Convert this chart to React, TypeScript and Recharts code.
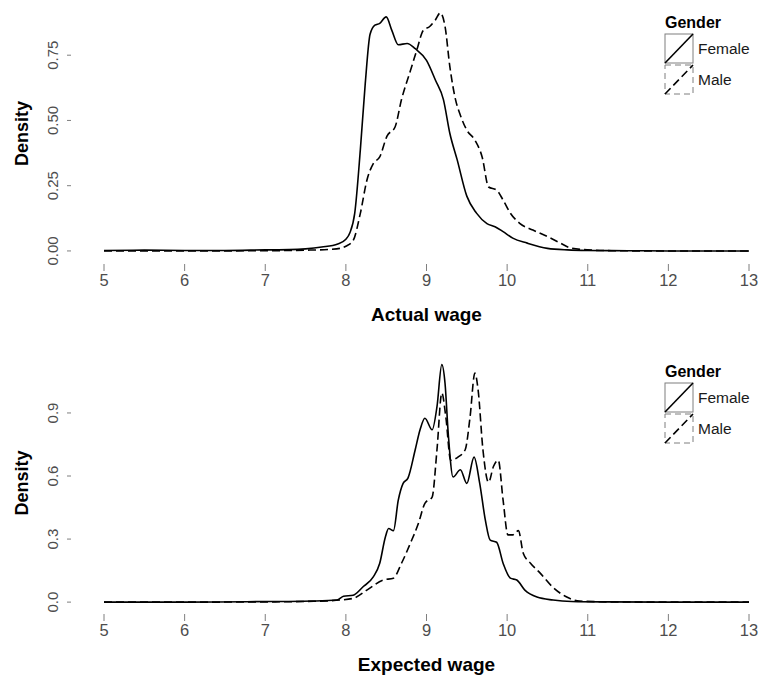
import React from "react";
import { LineChart, Line, XAxis, YAxis, Legend } from "recharts";

// actual wage densities
const actualFemaleX = [5, 5.5, 6, 6.5, 7, 7.3, 7.5, 7.7, 7.9, 8.0, 8.05, 8.11, 8.18, 8.24, 8.3, 8.36, 8.42, 8.5, 8.57, 8.65, 8.76, 8.86, 9.0, 9.11, 9.21, 9.29, 9.38, 9.5, 9.62, 9.75, 9.85, 9.95, 10.07, 10.25, 10.5, 10.75, 11, 11.5, 12, 12.5, 13];
const actualFemaleY = [0.002, 0.003, 0.002, 0.002, 0.004, 0.005, 0.008, 0.015, 0.027, 0.045, 0.07, 0.145, 0.39, 0.64, 0.83, 0.865, 0.872, 0.897, 0.845, 0.79, 0.795, 0.775, 0.73, 0.655, 0.58, 0.45, 0.35, 0.21, 0.145, 0.105, 0.093, 0.074, 0.049, 0.03, 0.01, 0.004, 0.002, 0.001, 0, 0, 0];
const actualMaleX = [5, 6, 7, 7.5, 7.8, 7.93, 8.0, 8.09, 8.18, 8.26, 8.34, 8.42, 8.51, 8.61, 8.69, 8.8, 8.88, 8.96, 9.04, 9.11, 9.17, 9.23, 9.29, 9.36, 9.42, 9.5, 9.6, 9.69, 9.77, 9.87, 9.95, 10.04, 10.16, 10.32, 10.5, 10.66, 10.78, 11.0, 11.3, 12, 13];
const actualMaleY = [0, 0, 0.001, 0.003, 0.006, 0.01, 0.018, 0.04, 0.145, 0.27, 0.335, 0.36, 0.44, 0.475, 0.58, 0.69, 0.77, 0.845, 0.86, 0.885, 0.912, 0.86, 0.705, 0.58, 0.52, 0.463, 0.425, 0.36, 0.245, 0.233, 0.195, 0.145, 0.105, 0.08, 0.055, 0.03, 0.012, 0.004, 0.001, 0, 0];

// expected wage densities
const expectedFemaleX = [5, 6, 6.77, 7.2, 7.6, 7.89, 7.97, 8.09, 8.21, 8.34, 8.42, 8.49, 8.53, 8.59, 8.65, 8.71, 8.77, 8.86, 8.92, 8.98, 9.07, 9.13, 9.19, 9.23, 9.27, 9.33, 9.42, 9.5, 9.59, 9.66, 9.73, 9.79, 9.87, 9.95, 10.04, 10.12, 10.22, 10.37, 10.57, 10.8, 11.2, 12, 13];
const expectedFemaleY = [0, 0, 0.002, 0.003, 0.005, 0.01, 0.028, 0.033, 0.072, 0.12, 0.185, 0.31, 0.35, 0.34, 0.485, 0.565, 0.59, 0.725, 0.82, 0.875, 0.82, 0.93, 1.13, 1.04, 0.8, 0.595, 0.63, 0.565, 0.69, 0.565, 0.39, 0.295, 0.285, 0.185, 0.114, 0.105, 0.057, 0.024, 0.01, 0.003, 0.001, 0, 0];
const expectedMaleX = [5, 6, 7, 7.6, 7.93, 8.09, 8.26, 8.46, 8.59, 8.69, 8.8, 8.9, 8.98, 9.07, 9.13, 9.19, 9.24, 9.3, 9.39, 9.48, 9.54, 9.6, 9.64, 9.7, 9.77, 9.83, 9.89, 9.95, 10.01, 10.07, 10.14, 10.2, 10.29, 10.41, 10.57, 10.74, 10.9, 11.3, 12, 13];
const expectedMaleY = [0, 0, 0.001, 0.004, 0.01, 0.018, 0.057, 0.105, 0.114, 0.185, 0.28, 0.375, 0.47, 0.5, 0.725, 0.995, 0.88, 0.675, 0.69, 0.725, 0.88, 1.09, 1.01, 0.725, 0.57, 0.645, 0.675, 0.485, 0.32, 0.32, 0.34, 0.233, 0.185, 0.138, 0.07, 0.024, 0.005, 0.001, 0, 0];

const xTicks = [5, 6, 7, 8, 9, 10, 11, 12, 13];
const actualYTicks = [0, 0.25, 0.5, 0.75];
const expectedYTicks = [0, 0.3, 0.6, 0.9];
const genders = ["Female", "Male"];

const FONT = "'Liberation Sans', Arial, sans-serif";
const zip = (xs: number[], ys: number[]) => xs.map((x, i) => ({ wage: x, density: ys[i] }));

function YTick(props: any) {
  const { x, y, payload, digits } = props;
  const tx = x - 51;
  return (
    <g>
      <line x1={x - 37} x2={x - 33} y1={y} y2={y} stroke="#7f7f7f" />
      <text
        x={tx}
        y={y}
        transform={`rotate(-90 ${tx} ${y})`}
        textAnchor="middle"
        dominantBaseline="central"
        fill="#4d4d4d"
        fontSize={15}
        fontFamily={FONT}
      >
        {payload.value.toFixed(digits)}
      </text>
    </g>
  );
}

function GenderLegend() {
  return (
    <div style={{ fontFamily: FONT, color: "#1a1a1a" }}>
      <div style={{ fontWeight: "bold", fontSize: 16, marginLeft: 1, lineHeight: "20px", color: "#000" }}>Gender</div>
      {genders.map((g, i) => (
        <div key={g} style={{ display: "flex", alignItems: "center", height: 31 }}>
          <svg width={30} height={31}>
            <rect x={1} y={1} width={28} height={29} fill="none" stroke="#7f7f7f" strokeDasharray={i ? "6 4" : undefined} />
            <line x1={1} y1={30} x2={29} y2={1} stroke="#000" strokeWidth={1.6} strokeDasharray={i ? "8 4" : undefined} />
          </svg>
          <span style={{ fontSize: 15.5, marginLeft: 4 }}>{g}</span>
        </div>
      ))}
    </div>
  );
}

function Panel(props: {
  female: { wage: number; density: number }[];
  male: { wage: number; density: number }[];
  yDomain: [number, number];
  yTicks: number[];
  digits: number;
  title: string;
  height: number;
  top: number;
}) {
  const { female, male, yDomain, yTicks, digits, title, height, top } = props;
  return (
    <LineChart width={759} height={height} margin={{ top, right: 10, left: 4, bottom: 1 }}>
      <XAxis
        type="number"
        dataKey="wage"
        domain={[5, 13]}
        ticks={xTicks}
        axisLine={false}
        tickSize={7}
        tickMargin={3}
        tickLine={{ stroke: "#7f7f7f" }}
        tick={{ fill: "#4d4d4d", fontSize: 16.5, fontFamily: FONT }}
        height={60}
        label={{ value: title, position: "insideBottom", offset: 3, fill: "#000", fontWeight: "bold", fontSize: 19, fontFamily: FONT }}
        allowDataOverflow
      />
      <YAxis
        type="number"
        domain={yDomain}
        ticks={yTicks}
        width={100}
        axisLine={false}
        tickLine={false}
        tickSize={0}
        tickMargin={0}
        tick={<YTick digits={digits} />}
        allowDataOverflow
        label={{ value: "Density", angle: -90, position: "insideLeft", offset: 18, fill: "#000", fontWeight: "bold", fontSize: 18, fontFamily: FONT, style: { textAnchor: "middle" } }}
      />
      <Legend
        layout="horizontal"
        verticalAlign="middle"
        align="center"
        wrapperStyle={{ top: top + 10, left: 664, width: 95, height: 84 }}
        content={() => <GenderLegend />}
      />
      <Line data={female} dataKey="density" type="monotone" stroke="#000" strokeWidth={1.6} dot={false} isAnimationActive={false} />
      <Line data={male} dataKey="density" type="monotone" stroke="#000" strokeWidth={1.6} strokeDasharray="8 4" dot={false} isAnimationActive={false} />
    </LineChart>
  );
}

export default function App() {
  return (
    <div style={{ position: "absolute", left: 0, top: 0, width: 759, height: 675, background: "#fff" }}>
      <Panel
        female={zip(actualFemaleX, actualFemaleY)}
        male={zip(actualMaleX, actualMaleY)}
        yDomain={[-0.05, 0.95]}
        yTicks={actualYTicks}
        digits={2}
        title="Actual wage"
        height={325}
        top={3}
      />
      <div style={{ position: "absolute", left: 0, top: 340 }}>
        <Panel
          female={zip(expectedFemaleX, expectedFemaleY)}
          male={zip(expectedMaleX, expectedMaleY)}
          yDomain={[-0.0565, 1.19]}
          yTicks={expectedYTicks}
          digits={1}
          title="Expected wage"
          height={335}
          top={12}
        />
      </div>
    </div>
  );
}
